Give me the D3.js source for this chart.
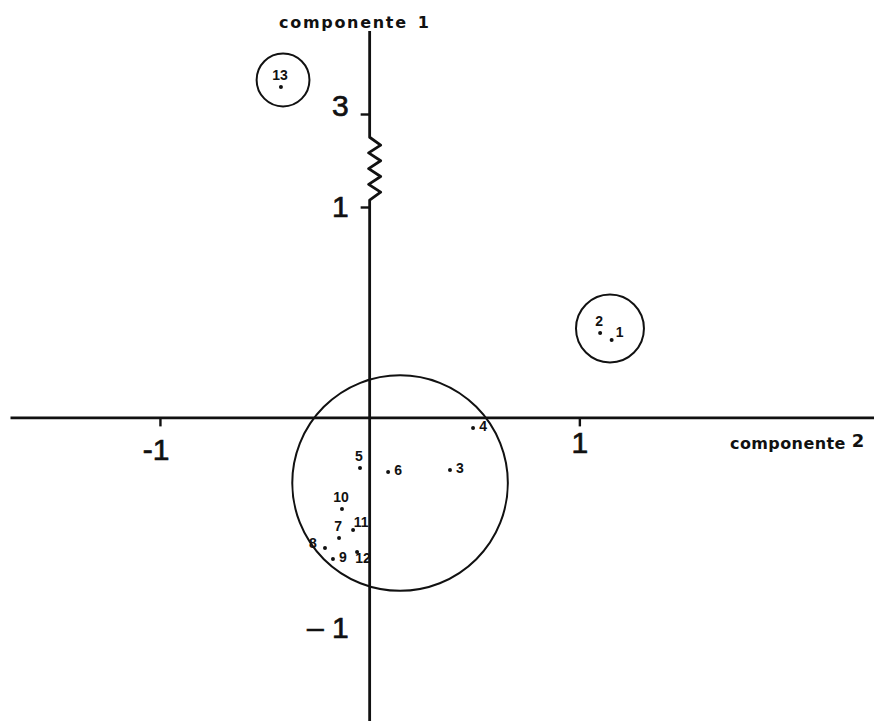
<!DOCTYPE html>
<html>
<head>
<meta charset="utf-8">
<script src="https://cdn.jsdelivr.net/npm/d3@7/dist/d3.min.js"></script>
<style>
  html, body { margin: 0; padding: 0; background: #fff; }
  svg { display: block; }
</style>
</head>
<body>
<svg id="chart" width="874" height="721"></svg>
<script>
// Scores of the 13 units on the first two principal components
const unitLabels = ["1", "2", "3", "4", "5", "6", "7", "8", "9", "10", "11", "12", "13"];
const comp2 = [1.154, 1.099, 0.383, 0.493, -0.046, 0.088, -0.146, -0.213, -0.175, -0.132, -0.079, -0.060, -0.423];
const comp1 = [0.368, 0.401, -0.250, -0.050, -0.240, -0.260, -0.573, -0.621, -0.673, -0.435, -0.535, -0.640, 3.129];
// where each number sits around its point
const labelSide = ["ne", "n", "e", "e", "n", "e", "n", "w", "e", "n", "ne", "se", "n"];

// Groups drawn as circles (centre on comp2/comp1, radius in units)
const groupX = [0.145, 1.146, -0.413];
const groupY = [-0.312, 0.4225, 3.162];
const groupR = [0.514, 0.162, 0.126];

// Axis ticks
const xTickValues = [-1, 1];
const xTickLabels = ["-1", "1"];
const yTickValues = [-1, 1, 3];
const yTickLabels = ["\u2013 1", "1", "3"];

// Component 1 axis is broken between these values
const yBreak = [1.15, 2.5];

const svg = d3.select("#chart");
const W = 874, H = 721;

const x = d3.scaleLinear().domain([-1.715, 2.405]).range([10, W]);
// piecewise scale: compressed stretch between 1 and 3 where the axis is broken
const y = d3.scaleLinear().domain([-1.443, 1, 3, 3.395]).range([H, 207, 114, 31]);

const ink = "#111";
const x0 = x(0), y0 = y(0);
const tickFont = "'Liberation Sans', Arial, sans-serif";

// ---- horizontal axis (component 2)
const gx = svg.append("g").attr("transform", `translate(0,${y0})`)
  .call(d3.axisBottom(x).tickValues(xTickValues)
    .tickFormat((d, i) => xTickLabels[i])
    .tickSize(9).tickSizeOuter(0).tickPadding(5));
gx.select(".domain").attr("stroke", ink).attr("stroke-width", 2.6);
gx.selectAll(".tick line").attr("stroke", ink).attr("stroke-width", 2.4);
gx.selectAll(".tick text")
  .attr("fill", ink)
  .attr("stroke", ink).attr("stroke-width", 0.7)
  .style("font-family", tickFont)
  .style("font-size", "30px")
  .attr("text-anchor", d => d < 0 ? "end" : "middle")
  .attr("dx", d => d < 0 ? "0.3em" : 0)
  .attr("dy", d => d < 0 ? "0.95em" : "0.71em");

// ---- vertical axis (component 1) with zigzag break
const zig = [];
const zTop = y(yBreak[1]), zBot = y(yBreak[0]);
const nSeg = 8;
for (let i = 0; i <= nSeg; i++) {
  const py = zTop + (zBot - zTop) * i / nSeg;
  let px = x0;
  if (i > 0 && i < nSeg) px = (i % 2 === 1) ? x0 + 11 : x0 - 1;
  zig.push([px, py]);
}
const axisPts = [[x0, y(3.395)], ...zig, [x0, y(-1.443)]];
svg.append("path")
  .attr("d", d3.line()(axisPts))
  .attr("fill", "none")
  .attr("stroke", ink)
  .attr("stroke-width", 2.8)
  .attr("stroke-linejoin", "round");

const gy = svg.append("g").attr("transform", `translate(${x0},0)`)
  .call(d3.axisLeft(y).tickValues(yTickValues)
    .tickFormat((d, i) => yTickLabels[i])
    .tickSize(9).tickPadding(12));
gy.select(".domain").remove();
gy.selectAll(".tick line")
  .attr("stroke", ink).attr("stroke-width", 2.4)
  .attr("opacity", d => d < 0 ? 0 : 1);
gy.selectAll(".tick text")
  .attr("fill", ink)
  .attr("stroke", ink).attr("stroke-width", 0.7)
  .style("font-family", tickFont)
  .style("font-size", "30px")
  .attr("dy", d => d === 3 ? "0.05em" : "0.32em");

// ---- axis titles
const titleFont = "'DejaVu Sans', sans-serif";
const t1 = svg.append("text")
  .attr("x", 279).attr("y", 28)
  .attr("fill", ink)
  .style("font-family", titleFont)
  .style("font-weight", "bold")
  .style("font-size", "16px")
  .style("letter-spacing", "1.7px");
t1.append("tspan").text("componente");
t1.append("tspan").attr("dx", 10).text("1");

const t2 = svg.append("text")
  .attr("x", 730).attr("y", 449)
  .attr("fill", ink)
  .style("font-family", titleFont)
  .style("font-weight", "bold")
  .style("font-size", "16px")
  .style("letter-spacing", "0.4px");
t2.append("tspan").text("componente");
t2.append("tspan").attr("dx", 6).attr("dy", -2).style("font-size", "18px").text("2");

// ---- group circles
const unit = x(1) - x(0);
svg.append("g").selectAll("circle")
  .data(d3.range(groupX.length))
  .join("circle")
  .attr("cx", i => x(groupX[i]))
  .attr("cy", i => y(groupY[i]))
  .attr("r", i => groupR[i] * unit)
  .attr("fill", "none")
  .attr("stroke", ink)
  .attr("stroke-width", 2);

// ---- points and their numbers
const offsets = {
  n: [-1, -12], e: [10, -2], ne: [8, -8], w: [-12, -5], se: [6, 6]
};
const pts = svg.append("g");
pts.selectAll("circle")
  .data(d3.range(unitLabels.length))
  .join("circle")
  .attr("cx", i => x(comp2[i]))
  .attr("cy", i => y(comp1[i]))
  .attr("r", 2)
  .attr("fill", ink);
pts.selectAll("text")
  .data(d3.range(unitLabels.length))
  .join("text")
  .attr("x", i => x(comp2[i]) + offsets[labelSide[i]][0])
  .attr("y", i => y(comp1[i]) + offsets[labelSide[i]][1])
  .attr("dy", "0.35em")
  .attr("text-anchor", "middle")
  .attr("fill", ink)
  .style("font-family", tickFont)
  .style("font-weight", "bold")
  .style("font-size", "14px")
  .text(i => unitLabels[i]);
</script>
</body>
</html>
